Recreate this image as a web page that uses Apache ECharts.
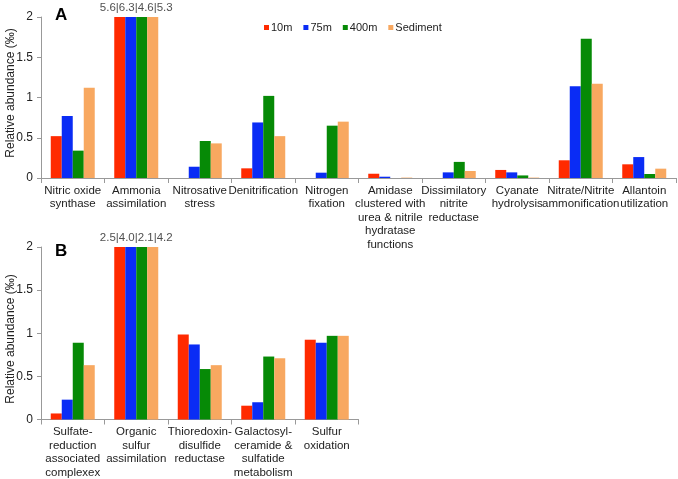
<!DOCTYPE html>
<html><head><meta charset="utf-8">
<script src="https://cdn.jsdelivr.net/npm/echarts@6/dist/echarts.min.js"></script>
<style>html,body{margin:0;padding:0;background:#fff}#c{width:678px;height:479px}</style>
</head><body><div id="c"></div>
<script>
const seriesNames = ['10m', '75m', '400m', 'Sediment'];
const colors = ['#ff2a00', '#0a2cf5', '#068a06', '#f8a860'];
const yTicks = [0, 0.5, 1, 1.5, 2];
const yName = 'Relative abundance (‰)';

const catsA = ['Nitric oxide\nsynthase', 'Ammonia\nassimilation', 'Nitrosative\nstress', 'Denitrification', 'Nitrogen\nfixation', 'Amidase\nclustered with\nurea & nitrile\nhydratase\nfunctions', 'Dissimilatory\nnitrite\nreductase', 'Cyanate\nhydrolysis', 'Nitrate/Nitrite\nammonification', 'Allantoin\nutilization'];
const a10m = [0.52, 5.6, 0, 0.12, 0, 0.053, 0, 0.10, 0.22, 0.17];
const a75m = [0.77, 6.3, 0.14, 0.69, 0.066, 0.016, 0.07, 0.07, 1.14, 0.26];
const a400m = [0.34, 4.6, 0.46, 1.02, 0.65, 0, 0.20, 0.032, 1.73, 0.05];
const aSed = [1.12, 5.3, 0.43, 0.52, 0.70, 0.005, 0.087, 0.005, 1.17, 0.116];

const catsB = ['Sulfate-\nreduction\nassociated\ncomplexex', 'Organic\nsulfur\nassimilation', 'Thioredoxin-\ndisulfide\nreductase', 'Galactosyl-\nceramide &\nsulfatide\nmetabolism', 'Sulfur\noxidation'];
const b10m = [0.07, 2.5, 0.985, 0.16, 0.925];
const b75m = [0.23, 4.0, 0.87, 0.20, 0.89];
const b400m = [0.89, 2.1, 0.585, 0.73, 0.97];
const bSed = [0.63, 4.2, 0.63, 0.71, 0.97];

const FONT = 'Liberation Sans, Arial, sans-serif';
const yMax = yTicks[yTicks.length - 1];
const yMin = yTicks[0];
const yInt = yTicks[1] - yTicks[0];

function clipLabels(groups) {
  return groups[0].map((_, i) => {
    const vals = groups.map(g => g[i]);
    return vals.some(v => v > yMax) ? { value: yMax, txt: vals.map(v => v.toFixed(1)).join('|') } : { value: '-', txt: '' };
  });
}

function barSeries(groups, idx) {
  return groups.map((g, k) => ({
    name: seriesNames[k], type: 'bar', xAxisIndex: idx, yAxisIndex: idx,
    data: g, barWidth: 11, barGap: '0%', clip: true,
    itemStyle: { color: colors[k] }, animation: false
  }));
}
function labelSeries(groups, idx) {
  const lab = clipLabels(groups);
  return {
    type: 'scatter', xAxisIndex: idx, yAxisIndex: idx, symbolSize: 0, silent: true, animation: false,
    data: lab.map(l => ({ value: l.value, txt: l.txt })),
    label: { show: true, position: 'top', distance: 3, color: '#222', fontFamily: FONT, fontSize: 11.5,
      formatter: p => p.data.txt }
  };
}
const groupsA = [a10m, a75m, a400m, aSed];
const groupsB = [b10m, b75m, b400m, bSed];

function xAxis(cats, idx) {
  return {
    type: 'category', gridIndex: idx, data: cats,
    axisLine: { lineStyle: { color: '#999' } },
    axisTick: { show: true, length: 5, lineStyle: { color: '#999' } },
    axisLabel: { interval: 0, color: '#222', fontFamily: FONT, fontSize: 11.5, lineHeight: 13.5, margin: 6, hideOverlap: false }
  };
}
function yAxis(idx) {
  return {
    type: 'value', gridIndex: idx, min: yMin, max: yMax, interval: yInt,
    axisLine: { show: true, lineStyle: { color: '#999' } },
    axisTick: { show: true, length: 4, lineStyle: { color: '#999' } },
    splitLine: { show: false },
    axisLabel: { color: '#222', fontFamily: FONT, fontSize: 12, margin: 8 }
  };
}

const chart = echarts.init(document.getElementById('c'), null, { renderer: 'canvas' });
chart.setOption({
  animation: false,
  backgroundColor: '#fff',
  legend: {
    data: seriesNames, left: 259, top: 17, icon: 'rect', itemWidth: 5, itemHeight: 5, itemGap: 11,
    textStyle: { color: '#222', fontFamily: FONT, fontSize: 11, padding: [0, 0, 0, -3] }
  },
  graphic: [
    { type: 'text', left: 55, top: 7, style: { text: 'A', font: 'bold 17px ' + FONT, fill: '#000' } },
    { type: 'text', left: 55, top: 243, style: { text: 'B', font: 'bold 17px ' + FONT, fill: '#000' } },
    { type: 'text', x: 11, y: 93, rotation: Math.PI / 2,
      style: { text: yName, font: '12px ' + FONT, fill: '#222', align: 'center', verticalAlign: 'middle' } },
    { type: 'text', x: 11, y: 339, rotation: Math.PI / 2,
      style: { text: yName, font: '12px ' + FONT, fill: '#222', align: 'center', verticalAlign: 'middle' } }
  ],
  grid: [
    { left: 41, top: 17, width: 635, height: 161, containLabel: false, outerBoundsMode: 'none' },
    { left: 41, top: 247, width: 317.5, height: 172.5, containLabel: false, outerBoundsMode: 'none' }
  ],
  xAxis: [xAxis(catsA, 0), xAxis(catsB, 1)],
  yAxis: [yAxis(0), yAxis(1)],
  series: [].concat(barSeries(groupsA, 0), [labelSeries(groupsA, 0)], barSeries(groupsB, 1), [labelSeries(groupsB, 1)])
});
</script></body></html>
